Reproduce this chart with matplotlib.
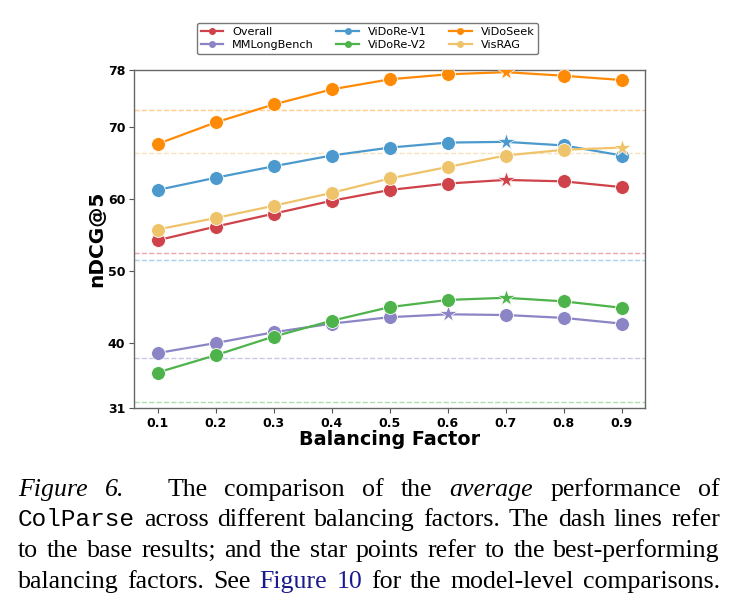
import numpy as np
import matplotlib
matplotlib.use("Agg")
import matplotlib.pyplot as plt

# balancing factors and average nDCG@5 per benchmark
factors = [0.1, 0.2, 0.3, 0.4, 0.5, 0.6, 0.7, 0.8, 0.9]
overall = [54.3, 56.2, 58.0, 59.8, 61.3, 62.2, 62.7, 62.5, 61.7]
mmlong = [38.6, 40.0, 41.5, 42.7, 43.6, 44.0, 43.9, 43.5, 42.7]
vidore_v1 = [61.3, 63.0, 64.6, 66.1, 67.2, 67.9, 68.0, 67.5, 66.1]
vidore_v2 = [35.9, 38.3, 40.9, 43.1, 45.0, 46.0, 46.3, 45.8, 44.9]
vidoseek = [67.7, 70.7, 73.2, 75.3, 76.7, 77.4, 77.7, 77.2, 76.6]
visrag = [55.8, 57.4, 59.1, 60.9, 62.9, 64.5, 66.1, 66.9, 67.2]

# base results (dashed lines)
base = {"Overall": 52.6, "MMLongBench": 37.9, "ViDoRe-V1": 51.6,
        "ViDoRe-V2": 31.8, "ViDoSeek": 72.5, "VisRAG": 66.5}

yticks = [31, 40, 50, 60, 70, 78]

series = [
    ("Overall", overall, "#cf4249"),
    ("MMLongBench", mmlong, "#8b85c6"),
    ("ViDoRe-V1", vidore_v1, "#4c9acd"),
    ("ViDoRe-V2", vidore_v2, "#4db34a"),
    ("ViDoSeek", vidoseek, "#ff8a05"),
    ("VisRAG", visrag, "#efc36a"),
]

fig = plt.figure(figsize=(7.35, 6.06), dpi=100)
ax = fig.add_axes([0.1827, 0.3272, 0.6949, 0.5573])

handles = []
for name, vals, col in series:
    vals = np.array(vals)
    best = int(np.argmax(vals))
    ax.axhline(base[name], color=col, ls="--", lw=1.0, alpha=0.45, zorder=1)
    ax.plot(factors, vals, color=col, lw=1.6, zorder=2)
    circ = [i for i in range(len(factors)) if i != best]
    ax.plot([factors[i] for i in circ], vals[circ], ls="none", marker="o",
            ms=10, color=col, mec="white", mew=0.6, zorder=3)
    ax.plot([factors[best]], [vals[best]], ls="none", marker="*",
            ms=13, color=col, mec="white", mew=0.5, zorder=3)
    h, = ax.plot([], [], color=col, lw=1.6, marker="o", ms=4, label=name)
    handles.append(h)

ax.set_xlim(0.06, 0.94)
ax.set_ylim(31, 78)
ax.set_xticks(factors)
ax.set_xticklabels([f"{f:.1f}" for f in factors])
ax.set_yticks(yticks)
for lab in ax.get_xticklabels() + ax.get_yticklabels():
    lab.set_fontweight("bold")
    lab.set_fontsize(9)
ax.tick_params(length=3.5, width=0.8, color="#555555", pad=3)
for sp in ax.spines.values():
    sp.set_color("#666666")
    sp.set_linewidth(1.0)

ax.set_xlabel("Balancing Factor", fontsize=13.8, fontweight="bold", labelpad=0)
ax.set_ylabel("nDCG@5", fontsize=14.5, fontweight="bold", labelpad=1)

fig.legend(handles=handles, ncol=3, loc="upper center",
           bbox_to_anchor=(0.5, 0.972), fontsize=8.1, frameon=True,
           edgecolor="#555555", handlelength=2.0, columnspacing=2.0,
           borderpad=0.35, labelspacing=0.3)

# caption, justified word by word
serif = "Liberation Serif"
cap_size = 18.6
lines = [
    [("Figure", "i"), ("6.", "i"), ("The", ""), ("comparison", ""), ("of", ""),
     ("the", ""), ("average", "i"), ("performance", ""), ("of", "")],
    [("ColParse", "m"), ("across", ""), ("different", ""), ("balancing", ""),
     ("factors.", ""), ("The", ""), ("dash", ""), ("lines", ""), ("refer", "")],
    [("to", ""), ("the", ""), ("base", ""), ("results;", ""), ("and", ""), ("the", ""),
     ("star", ""), ("points", ""), ("refer", ""), ("to", ""), ("the", ""),
     ("best-performing", "")],
    [("balancing", ""), ("factors.", ""), ("See", ""), ("Figure", "b"), ("10", "b"),
     ("for", ""), ("the", ""), ("model-level", ""), ("comparisons.", "")],
]
baselines = [496, 526, 557, 588]
x_left, x_right = 18, 720

renderer = fig.canvas.get_renderer()
W, H = fig.get_size_inches() * fig.dpi
for n, (words, yb) in enumerate(zip(lines, baselines)):
    texts = []
    for w, st in words:
        kw = dict(fontsize=cap_size, family=serif, va="baseline", ha="left", color="black")
        if st == "i":
            kw["style"] = "italic"
        elif st == "m":
            kw["family"] = "Liberation Mono"
            kw["fontsize"] = cap_size - 1
        elif st == "b":
            kw["color"] = "#1a1a8c"
        t = fig.text(0, 1 - yb / H, w, **kw)
        texts.append(t)
    widths = [t.get_window_extent(renderer).width for t in texts]
    # first line: the gap after "Figure 6." is about three times wider
    weights = [1.0] * (len(texts) - 1)
    if n == 0:
        weights[1] = 2.5
    unit = (x_right - x_left - sum(widths)) / sum(weights)
    x = x_left
    for i, (t, wd) in enumerate(zip(texts, widths)):
        t.set_x(x / W)
        if i < len(weights):
            x += wd + unit * weights[i]

fig.savefig("out.png", dpi=100)
